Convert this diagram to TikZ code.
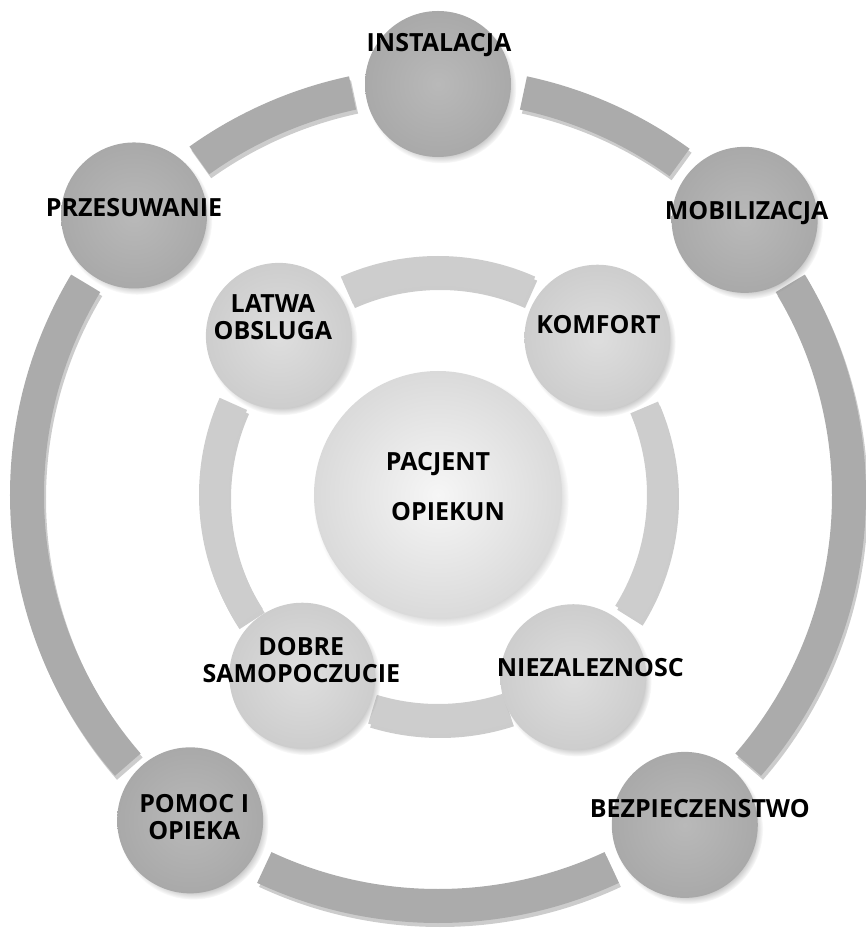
\documentclass[tikz,border=0pt]{standalone}
\usepackage{fontspec}
\setmainfont{Open Sans}
\usepackage{tikz}
\usetikzlibrary{shadows,backgrounds}
\definecolor{ink}{HTML}{000000}
\definecolor{outergray}{HTML}{A9A9A9}
\definecolor{outerlight}{HTML}{B9B9B9}
\definecolor{innergray}{HTML}{CDCDCD}
\definecolor{innerlight}{HTML}{DEDEDE}
\definecolor{hubgray}{HTML}{DADADA}
\definecolor{hublight}{HTML}{F6F6F6}
\definecolor{bandouter}{HTML}{ABABAB}
\definecolor{bandinner}{HTML}{CDCDCD}
\tikzset{
  lbl/.style={font=\fontsize{25}{27}\selectfont\bfseries,text=ink,align=center,inner sep=0pt},
  disc/.style={circle,draw=none,inner sep=0pt,circular drop shadow={shadow xshift=3pt,shadow yshift=-4pt,shadow scale=1.03,opacity=0.6}},
  outerdisc/.style={disc,minimum size=146pt,inner color=outerlight,outer color=outergray},
  innerdisc/.style={disc,minimum size=146pt,inner color=innerlight,outer color=innergray},
  hubdisc/.style={disc,minimum size=248pt,inner color=hublight,outer color=hubgray},
  outerband/.style 2 args={fill=bandouter,drop shadow={shadow xshift=2pt,shadow yshift=-4pt,opacity=0.4},
    insert path={(#1:394) arc[start angle=#1,end angle=#2,radius=394] -- (#2:428) arc[start angle=#2,end angle=#1,radius=428] -- cycle}},
  innerband/.style 2 args={fill=bandinner,drop shadow={shadow xshift=2pt,shadow yshift=-4pt,opacity=0.4},
    insert path={(#1:209) arc[start angle=#1,end angle=#2,radius=209] -- (#2:239) arc[start angle=#2,end angle=#1,radius=239] -- cycle}}
}
\begin{document}
\begin{tikzpicture}[x=1pt,y=1pt]
  \useasboundingbox (-438,-433) rectangle (427,495);
  \coordinate (hub) at (0,0);

  \node[hubdisc,label={[lbl,yshift=8pt]center:PACJENT\\[23pt]\hspace*{20pt}OPIEKUN}] (pacjent) at (hub) {};

  \node[innerdisc,label={[lbl,xshift=-6pt,yshift=19pt]center:LATWA\\OBSLUGA}] (latwa) at (135:225) {};
  \node[innerdisc,label={[lbl,xshift=1pt,yshift=13pt]center:KOMFORT}] (komfort) at (44.6:224) {};
  \node[innerdisc,label={[lbl,xshift=-1pt,yshift=16pt]center:DOBRE\\SAMOPOCZUCIE}] (dobre) at (233.1:226) {};
  \node[innerdisc,label={[lbl,xshift=17pt,yshift=10pt]center:NIEZALEZNOSC}] (niezaleznosc) at (306.6:227) {};

  \node[outerdisc,label={[lbl,xshift=1pt,yshift=39pt]center:INSTALACJA}] (instalacja) at (90:411) {};
  \node[outerdisc,label={[lbl,yshift=8pt]center:PRZESUWANIE}] (przesuwanie) at (137.4:413) {};
  \node[outerdisc,label={[lbl,xshift=2pt,yshift=7pt]center:MOBILIZACJA}] (mobilizacja) at (41.9:412) {};
  \node[outerdisc,label={[lbl,xshift=4pt,yshift=3pt]center:POMOC I\\OPIEKA}] (pomoc) at (232.7:409) {};
  \node[outerdisc,label={[lbl,xshift=15pt,yshift=16pt]center:BEZPIECZENSTWO}] (bezpieczenstwo) at (306.8:412) {};

  \begin{scope}[on background layer]
    \path[outerband={102}{125.5}];
    \path[outerband={54}{78}];
    \path[outerband={149}{221}];
    \path[outerband={-41}{31}];
    \path[outerband={245}{295}];
    \path[innerband={66}{114}];
    \path[innerband={156}{213}];
    \path[innerband={-32}{23}];
    \path[innerband={253}{288}];
  \end{scope}
\end{tikzpicture}
\end{document}
